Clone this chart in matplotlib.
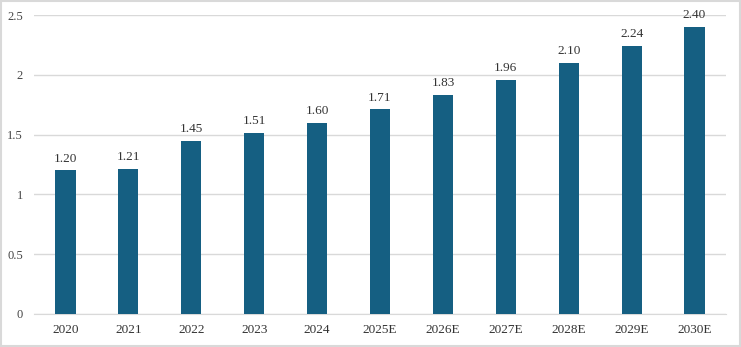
import numpy as np
import matplotlib
matplotlib.use('Agg')
import matplotlib.pyplot as plt
from matplotlib.patches import Rectangle

years = ['2020', '2021', '2022', '2023', '2024', '2025E', '2026E', '2027E', '2028E', '2029E', '2030E']
values = [1.20, 1.21, 1.45, 1.51, 1.60, 1.71, 1.83, 1.96, 2.10, 2.24, 2.40]
yticks = [0, 0.5, 1, 1.5, 2, 2.5]
ytick_labels = ['0', '0.5', '1', '1.5', '2', '2.5']

bar_color = '#155f82'
serif = ['Liberation Serif', 'DejaVu Serif']

fig = plt.figure(figsize=(7.41, 3.47), dpi=100)
ax = fig.add_axes([34/741, 1-314/347, (726-34)/741, (314-15)/347])

x = np.arange(len(years))
bars = ax.bar(x, values, width=0.32, color=bar_color, zorder=3)
for xi, v in zip(x, values):
    ax.text(xi, v + 0.05, '%.2f' % v, ha='center', va='bottom',
            fontsize=9.5, family=serif, color='#333333')

ax.set_xlim(-0.5, len(years) - 0.5)
ax.set_ylim(0, 2.5)
ax.set_yticks(yticks)
ax.set_yticklabels(ytick_labels, fontsize=9, color='#444444', family=serif)
ax.set_xticks(x)
ax.set_xticklabels(years, fontsize=9.5, color='#333333', family=serif)
ax.tick_params(axis='both', length=0)
ax.tick_params(axis='y', pad=8)
ax.tick_params(axis='x', pad=7)
ax.grid(axis='y', color='#d9d9d9', linewidth=1, zorder=0)
for s in ['top', 'right', 'left']:
    ax.spines[s].set_visible(False)
ax.spines['bottom'].set_color('#d9d9d9')

# outer border
fig.patches.append(Rectangle((0.001, 0.002), 0.997, 0.995, transform=fig.transFigure,
                             fill=False, edgecolor='#d9d9d9', linewidth=1.5))

fig.savefig('out.png', dpi=100)
